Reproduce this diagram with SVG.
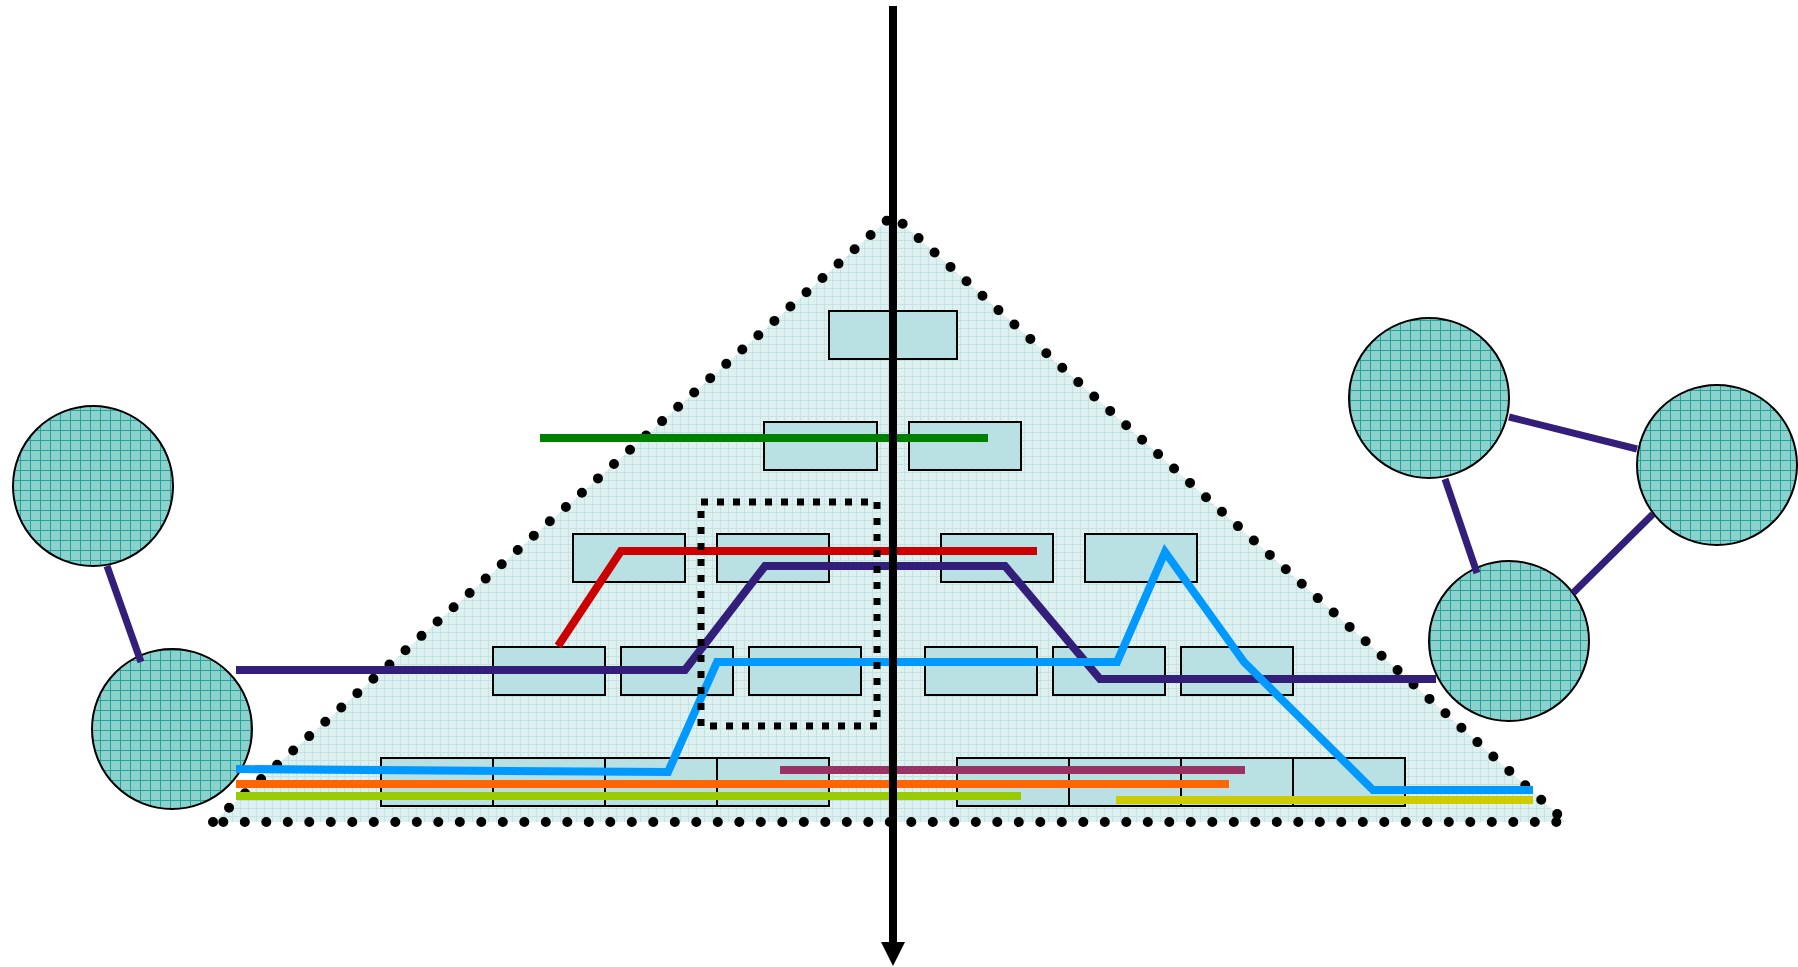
<svg xmlns="http://www.w3.org/2000/svg" width="1798" height="967" viewBox="0 0 1798 967">
<defs>
<pattern id="triGrid" width="8" height="8" patternUnits="userSpaceOnUse"><rect width="8" height="8" fill="#dff0f1"/><path d="M0 0.5H8M0.5 0V8" stroke="#c4e3e4" stroke-width="1"/></pattern>
<pattern id="circGrid" width="10" height="10" patternUnits="userSpaceOnUse"><rect width="10" height="10" fill="#8dd1cd"/><path d="M0 0.5H10M0.5 0V10" stroke="#22a39b" stroke-width="1"/></pattern>
<style>
.box{fill:#b9e0e2;stroke:#000;stroke-width:2}
.node{fill:url(#circGrid);stroke:#000;stroke-width:2}
.link{stroke:#331f79;stroke-width:7;fill:none}
.ln{fill:none;stroke-width:8;stroke-linejoin:miter}
</style>
</defs>
<g id="pyramid">
<polygon points="893,215 213,822 1566,822" fill="url(#triGrid)"/>
<path d="M213 822 L893 215 L1566 822 Z" fill="none" stroke="#000" stroke-width="10" stroke-linecap="round" stroke-dasharray="0 21.5"/>
</g>
<g id="boxes">
<rect class="box" x="829" y="311" width="128" height="48"/>
<rect class="box" x="764" y="422" width="113" height="48"/>
<rect class="box" x="909" y="422" width="112" height="48"/>
<rect class="box" x="573" y="534" width="112" height="48"/>
<rect class="box" x="717" y="534" width="112" height="48"/>
<rect class="box" x="941" y="534" width="112" height="48"/>
<rect class="box" x="1085" y="534" width="112" height="48"/>
<rect class="box" x="493" y="647" width="112" height="48"/>
<rect class="box" x="621" y="647" width="112" height="48"/>
<rect class="box" x="749" y="647" width="112" height="48"/>
<rect class="box" x="925" y="647" width="112" height="48"/>
<rect class="box" x="1053" y="647" width="112" height="48"/>
<rect class="box" x="1181" y="647" width="112" height="48"/>
<rect class="box" x="381" y="758" width="112" height="48"/>
<rect class="box" x="493" y="758" width="112" height="48"/>
<rect class="box" x="605" y="758" width="112" height="48"/>
<rect class="box" x="717" y="758" width="112" height="48"/>
<rect class="box" x="957" y="758" width="112" height="48"/>
<rect class="box" x="1069" y="758" width="112" height="48"/>
<rect class="box" x="1181" y="758" width="112" height="48"/>
<rect class="box" x="1293" y="758" width="112" height="48"/>
</g>
<g id="nodes">
<circle id="n1" class="node" cx="93" cy="486" r="80"/>
<circle id="n2" class="node" cx="172" cy="729" r="80"/>
<circle id="n3" class="node" cx="1429" cy="398" r="80"/>
<circle id="n4" class="node" cx="1717" cy="465" r="80"/>
<circle id="n5" class="node" cx="1509" cy="641" r="80"/>
</g>
<g id="connectors">
<line class="link" x1="107" y1="566" x2="141" y2="662"/>
<line class="link" x1="1509" y1="417" x2="1637" y2="449"/>
<line class="link" x1="1445" y1="479" x2="1477" y2="573"/>
<line class="link" x1="1653" y1="514" x2="1573" y2="593"/>
<polyline class="ln" stroke="#008000" points="540,438 988,438"/>
<polyline class="ln" stroke="#cc0000" points="558,646 621,551 1037,551"/>
<polyline class="ln" stroke="#331f79" points="236,670 685,670 765,566 1005,566 1100,679 1436,679"/>
<polyline class="ln" stroke="#993366" points="780,770 1245,770"/>
<polyline class="ln" stroke="#ff6600" points="236,784 1229,784"/>
<polyline class="ln" stroke="#99cc00" points="236,796 1021,796"/>
<polyline class="ln" stroke="#cccc00" points="1116,800 1533,800"/>
<polyline class="ln" stroke="#0099ff" points="236,769 668,772 717,662 1117,662 1165,552 1244,662 1373,790 1533,790"/>
</g>
<g id="focus">
<rect x="701" y="502" width="176" height="224" fill="none" stroke="#000" stroke-width="7" stroke-dasharray="7 9"/>
</g>
<g id="axis">
<line x1="893" y1="6" x2="893" y2="944" stroke="#000" stroke-width="8"/>
<polygon points="881,942 905,942 893,966" fill="#000"/>
</g>
</svg>
